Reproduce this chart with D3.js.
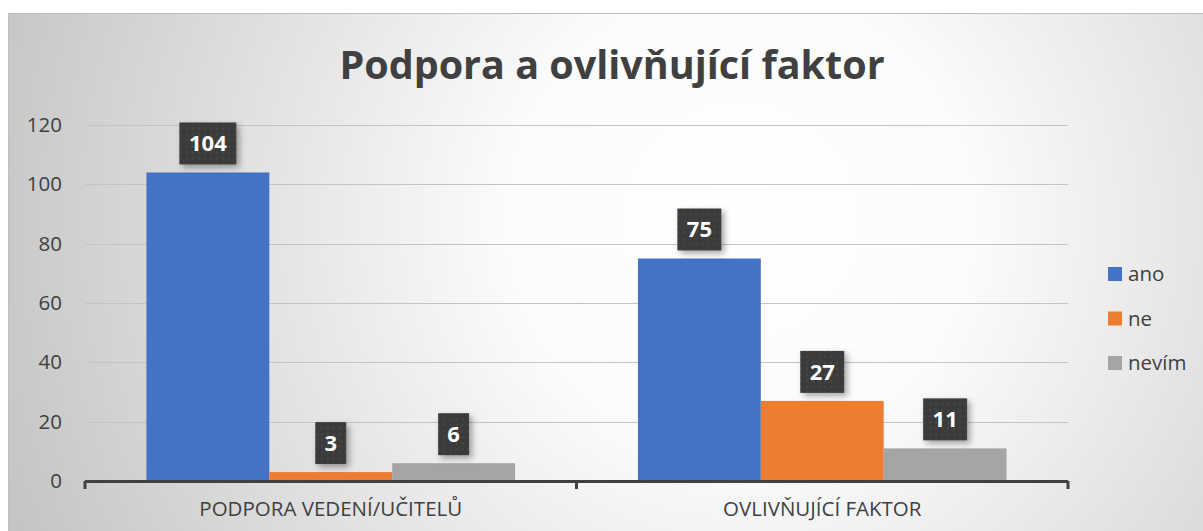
<!DOCTYPE html>
<html>
<head>
<meta charset="utf-8">
<script src="https://cdn.jsdelivr.net/npm/d3@7"></script>
<style>
  body { margin: 0; background: #fff; }
  text { font-family: "Open Sans", "Noto Sans", sans-serif; }
</style>
</head>
<body>
<div id="chart"></div>
<script>
// chart data
var categories = ["PODPORA VEDENÍ/UČITELŮ", "OVLIVŇUJÍCÍ FAKTOR"];
var seriesNames = ["ano", "ne", "nevím"];
var ano = [104, 75];
var ne = [3, 27];
var nevim = [6, 11];
var yTicks = [0, 20, 40, 60, 80, 100, 120];
var colors = ["#4472c4", "#ed7d31", "#a5a5a5"];

var svgWidth = 1203;
var svgHeight = 531;

var chartMargin = { top: 125, right: 135, bottom: 50, left: 85 };
var chartWidth = 1068 - chartMargin.left;
var chartHeight = 481 - chartMargin.top;

var svg = d3.select("#chart")
  .append("svg")
  .attr("width", svgWidth)
  .attr("height", svgHeight);

var defs = svg.append("defs");

// background gradient
var grad = defs.append("radialGradient")
  .attr("id", "bg")
  .attr("gradientUnits", "userSpaceOnUse")
  .attr("cx", 740).attr("cy", 220).attr("r", 790);
grad.append("stop").attr("offset", "0%").attr("stop-color", "#ffffff");
grad.append("stop").attr("offset", "30%").attr("stop-color", "#fbfbfb");
grad.append("stop").attr("offset", "100%").attr("stop-color", "#c4c4c4");

// dotted pattern for label boxes
var pat = defs.append("pattern")
  .attr("id", "dots")
  .attr("patternUnits", "userSpaceOnUse")
  .attr("width", 6).attr("height", 6);
pat.append("rect").attr("width", 6).attr("height", 6).attr("fill", "#3b3b3b");
pat.append("circle").attr("cx", 3).attr("cy", 3).attr("r", 0.8).attr("fill", "#555");

var shadow = defs.append("filter").attr("id", "shadow")
  .attr("x", "-30%").attr("y", "-30%").attr("width", "170%").attr("height", "170%");
shadow.append("feDropShadow")
  .attr("dx", 3).attr("dy", 3).attr("stdDeviation", 3)
  .attr("flood-color", "#000").attr("flood-opacity", 0.35);

svg.append("rect")
  .attr("x", 8.5).attr("y", 13.5)
  .attr("width", svgWidth + 10).attr("height", svgHeight + 10)
  .attr("fill", "url(#bg)")
  .attr("stroke", "#bfbfbf")
  .attr("stroke-width", 1);

// title
svg.append("text")
  .attr("x", 612)
  .attr("y", 79)
  .attr("text-anchor", "middle")
  .attr("font-size", 39.5)
  .attr("font-weight", "bold")
  .attr("fill", "#404040")
  .text("Podpora a ovlivňující faktor");

var chartGroup = svg.append("g")
  .attr("transform", `translate(${chartMargin.left}, ${chartMargin.top})`);

var data = categories.map(function(c, i) {
  return { category: c, values: [ano[i], ne[i], nevim[i]] };
});

var x0 = d3.scaleBand()
  .domain(categories)
  .range([0, chartWidth])
  .paddingInner(0.25)
  .paddingOuter(0.125);

// full category bands for labels and ticks
var xOuter = d3.scaleBand().domain(categories).range([0, chartWidth]);

var x1 = d3.scaleBand()
  .domain(seriesNames)
  .range([0, x0.bandwidth()]);

var yLinearScale = d3.scaleLinear()
  .domain([0, 120])
  .range([chartHeight, 0]);

// gridlines
chartGroup.selectAll(".grid")
  .data(yTicks.filter(d => d > 0))
  .enter()
  .append("line")
  .attr("x1", 0)
  .attr("x2", chartWidth)
  .attr("y1", d => Math.round(yLinearScale(d)) + 0.5)
  .attr("y2", d => Math.round(yLinearScale(d)) + 0.5)
  .attr("stroke", "#c4c4c4")
  .attr("stroke-width", 1);

// y axis labels
var leftAxis = d3.axisLeft(yLinearScale).tickValues(yTicks).tickSize(0).tickPadding(23);
var yAxis = chartGroup.append("g").call(leftAxis);
yAxis.select(".domain").remove();
yAxis.selectAll("text")
  .attr("font-size", 20.5)
  .attr("fill", "#404040")
  .style("font-family", '"Open Sans", sans-serif');

// bars
var groups = chartGroup.selectAll(".cat")
  .data(data)
  .enter()
  .append("g")
  .attr("transform", d => `translate(${x0(d.category)}, 0)`);

groups.selectAll("rect")
  .data(d => d.values.map((v, i) => ({ name: seriesNames[i], value: v, color: colors[i] })))
  .enter()
  .append("rect")
  .attr("x", d => x1(d.name))
  .attr("y", d => yLinearScale(d.value))
  .attr("width", x1.bandwidth())
  .attr("height", d => chartHeight - yLinearScale(d.value))
  .attr("fill", d => d.color);

// x axis
var bottomAxis = d3.axisBottom(xOuter).tickSize(0).tickPadding(20);
var xAxis = chartGroup.append("g")
  .attr("transform", `translate(0, ${chartHeight})`)
  .call(bottomAxis);
xAxis.select(".domain").remove();
xAxis.selectAll("text")
  .attr("font-size", 20.5)
  .attr("fill", "#404040")
  .style("font-family", '"Open Sans", sans-serif');

chartGroup.append("line")
  .attr("x1", 0).attr("x2", chartWidth)
  .attr("y1", chartHeight + 0.5).attr("y2", chartHeight + 0.5)
  .attr("stroke", "#404040").attr("stroke-width", 3);

var tickPos = [0].concat(categories.map(c => xOuter(c) + xOuter.bandwidth()));
chartGroup.selectAll(".xtick")
  .data(tickPos)
  .enter()
  .append("line")
  .attr("x1", d => d).attr("x2", d => d)
  .attr("y1", chartHeight).attr("y2", chartHeight + 8)
  .attr("stroke", "#404040").attr("stroke-width", 3);

// data labels
var labels = groups.selectAll(".lbl")
  .data(d => d.values.map((v, i) => ({ name: seriesNames[i], value: v })))
  .enter()
  .append("g")
  .attr("transform", d => `translate(${x1(d.name) + x1.bandwidth() / 2}, ${yLinearScale(d.value) - 29})`);

labels.append("rect")
  .attr("x", d => -(String(d.value).length * 13 + 18) / 2)
  .attr("y", -21)
  .attr("width", d => String(d.value).length * 13 + 18)
  .attr("height", 42)
  .attr("fill", "url(#dots)")
  .attr("filter", "url(#shadow)");

labels.append("text")
  .attr("text-anchor", "middle")
  .attr("dy", "0.36em")
  .attr("font-size", 22)
  .attr("font-weight", "bold")
  .attr("fill", "#ffffff")
  .text(d => d.value);

// legend
var legend = svg.append("g").attr("transform", "translate(1108, 274)");
var items = legend.selectAll("g")
  .data(seriesNames)
  .enter()
  .append("g")
  .attr("transform", (d, i) => `translate(0, ${i * 44.5})`);
items.append("rect")
  .attr("x", 0).attr("y", -7)
  .attr("width", 14).attr("height", 14)
  .attr("fill", (d, i) => colors[i]);
items.append("text")
  .attr("x", 20)
  .attr("dy", "0.35em")
  .attr("font-size", 20.5)
  .attr("fill", "#404040")
  .text(d => d);
</script>
</body>
</html>
